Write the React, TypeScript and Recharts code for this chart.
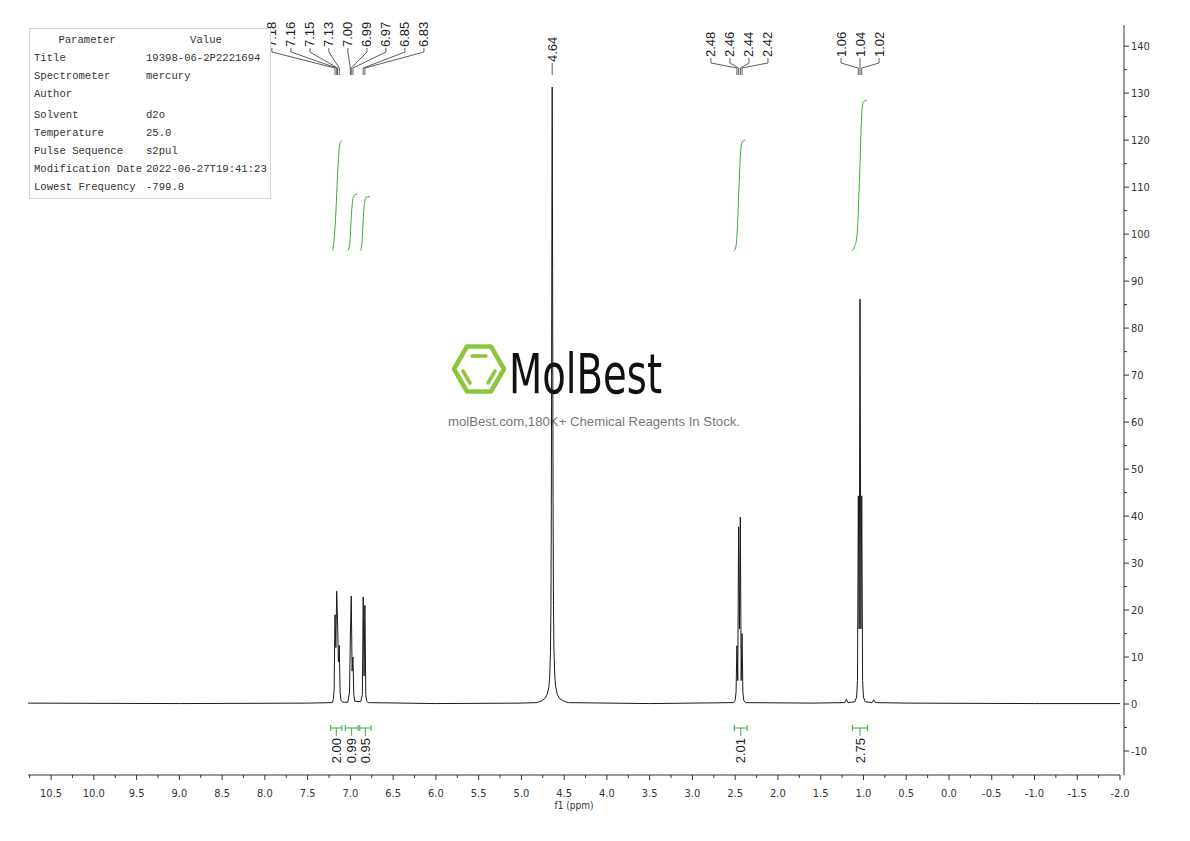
import React from 'react';
import { ComposedChart, Line, XAxis, YAxis, ReferenceLine, ReferenceDot } from 'recharts';

// axis ranges (ppm runs right to left)
const X_MIN = -2.0;
const X_MAX = 10.77;
const Y_MIN = -15.1;
const Y_MAX = 144.5;

const xMajorTicks = [10.5, 10.0, 9.5, 9.0, 8.5, 8.0, 7.5, 7.0, 6.5, 6.0, 5.5, 5.0, 4.5, 4.0, 3.5, 3.0, 2.5, 2.0, 1.5, 1.0, 0.5, 0.0, -0.5, -1.0, -1.5, -2.0];
const xMinorTicks = [10.75, 10.25, 9.75, 9.25, 8.75, 8.25, 7.75, 7.25, 6.75, 6.25, 5.75, 5.25, 4.75, 4.25, 3.75, 3.25, 2.75, 2.25, 1.75, 1.25, 0.75, 0.25, -0.25, -0.75, -1.25, -1.75];
const yMajorTicks = [-10, 0, 10, 20, 30, 40, 50, 60, 70, 80, 90, 100, 110, 120, 130, 140];
const yMinorTicks = [-5, 5, 15, 25, 35, 45, 55, 65, 75, 85, 95, 105, 115, 125, 135];

// spectrum trace [ppm, intensity]
const baselineTrace = [[10.77, 0.2], [9.0, 0.1], [7.5, 0.2], [6.0, 0.1], [5.0, 0.2], [3.5, 0.1], [1.6, 0.2], [0.5, 0.2], [-1.0, 0.1], [-2.0, 0.1]];
const aromaticTrace = [
  [7.21, 0.3], [7.2, 1], [7.19, 3], [7.18, 19], [7.17, 12], [7.16, 24], [7.15, 18], [7.14, 9], [7.13, 12.5], [7.12, 2.5], [7.11, 0.8], [7.09, 0.4],
  [7.03, 0.4], [7.01, 2.5], [7.0, 14.7], [6.99, 23], [6.98, 7], [6.97, 10], [6.96, 2], [6.95, 0.6],
  [6.88, 0.5], [6.86, 2], [6.85, 22.8], [6.84, 6], [6.83, 21], [6.82, 2], [6.81, 0.6], [6.79, 0.3],
];
const waterTrace = [
  [4.82, 0.3], [4.76, 0.7], [4.72, 1.3], [4.7, 2], [4.68, 3.5], [4.67, 5.5], [4.66, 11], [4.655, 20], [4.65, 42], [4.645, 90],
  [4.64, 131.3], [4.635, 92], [4.63, 44], [4.625, 21], [4.62, 12], [4.61, 6], [4.6, 3.8], [4.58, 2], [4.55, 1.1], [4.5, 0.6], [4.45, 0.3],
];
const quartetTrace = [
  [2.52, 0.3], [2.5, 0.8], [2.49, 2.5], [2.48, 12.4], [2.47, 5], [2.46, 37.7], [2.45, 16], [2.44, 39.8], [2.43, 5], [2.42, 15], [2.41, 2.5], [2.4, 0.8], [2.38, 0.3],
];
const tripletTrace = [
  [1.22, 0.3], [1.2, 1.0], [1.18, 0.3], [1.1, 0.5], [1.08, 1.5], [1.07, 5], [1.06, 44.3], [1.05, 16], [1.04, 86.2], [1.03, 16], [1.02, 44.3], [1.01, 5], [1.0, 1.5], [0.98, 0.5], [0.9, 0.3], [0.88, 0.9], [0.86, 0.3],
];

// integral curves [ppm, level]
const integral1 = [[7.215, 96.5], [7.2, 97.3], [7.19, 99], [7.17, 104.5], [7.15, 112.5], [7.13, 118.3], [7.12, 119.5], [7.1, 119.9]];
const integral2 = [[7.03, 96.5], [7.01, 97.5], [7.0, 100], [6.99, 103.5], [6.98, 106], [6.97, 107.6], [6.96, 108.2], [6.92, 108.5]];
const integral3 = [[6.88, 96.5], [6.87, 97.3], [6.86, 99.5], [6.85, 103], [6.84, 105.8], [6.83, 107.2], [6.82, 107.8], [6.77, 108]];
const integral4 = [[2.51, 96.5], [2.49, 97.5], [2.48, 99.5], [2.47, 103], [2.46, 108], [2.45, 112.5], [2.44, 116.5], [2.43, 118.8], [2.42, 119.6], [2.38, 120]];
const integral5 = [[1.13, 96.5], [1.1, 97.5], [1.08, 99], [1.07, 101], [1.06, 105], [1.05, 110], [1.04, 115], [1.03, 121], [1.02, 125.5], [1.01, 127.5], [1.0, 128.2], [0.96, 128.5]];

// integration ranges and values
const integralRanges = [[7.23, 7.1], [7.06, 6.91], [6.89, 6.76], [2.51, 2.36], [1.13, 0.95]];
const integralValues = [2.0, 0.99, 0.95, 2.01, 2.75];

// peak picking
const aromaticShifts = [7.18, 7.16, 7.15, 7.13, 7.0, 6.99, 6.97, 6.85, 6.83];
const waterShifts = [4.64];
const quartetShifts = [2.48, 2.46, 2.44, 2.42];
const tripletShifts = [1.06, 1.04, 1.02];

const paramNames = ['Title', 'Spectrometer', 'Author', 'Solvent', 'Temperature', 'Pulse Sequence', 'Modification Date', 'Lowest Frequency'];
const paramValues = ['19398-06-2P2221694', 'mercury', '', 'd2o', '25.0', 's2pul', '2022-06-27T19:41:23', '-799.8'];

const W = 1190;
const H = 841;
const MARGIN = { top: 25, right: 26, bottom: 31, left: 28 };
const PLOT_W = 1092;
const PX_PER_PPM = PLOT_W / (X_MAX - X_MIN);
const LABEL_GAP = 19;
const BAR_Y = -5.1;
const GREEN = '#3aa83a';
const AXIS_FONT = '"Liberation Sans Narrow", "DejaVu Sans Condensed", sans-serif';
const LABEL_FONT = '"Liberation Sans", Arial, sans-serif';

// label layout per peak group: text bottom and where the connector turns (offsets from plot top)
const groupLabelBottom = [22, 37, 32, 32];
const groupBend = [24, 38, 35, 35];

const pts = (arr: number[][]) => arr.map(([x, y]) => ({ x, y }));
const spectrum = pts(
  [...baselineTrace, ...aromaticTrace, ...waterTrace, ...quartetTrace, ...tripletTrace].sort((a, b) => b[0] - a[0])
);
const integrals = [integral1, integral2, integral3, integral4, integral5];
const peakGroups = [aromaticShifts, waterShifts, quartetShifts, tripletShifts];

const XTick = ({ x, y, payload }: any) => {
  const major = xMajorTicks.includes(payload.value);
  return (
    <g>
      <line x1={x} x2={x} y1={y} y2={y + (major ? 5 : 3)} stroke="#333" strokeWidth={1} />
      {major && (
        <text x={x} y={y + 18} textAnchor="middle" dominantBaseline="central" fontSize={11} fill="#333" fontFamily={AXIS_FONT}>
          {payload.value.toFixed(1)}
        </text>
      )}
    </g>
  );
};

const YTick = ({ x, y, payload }: any) => {
  const major = yMajorTicks.includes(payload.value);
  return (
    <g>
      <line x1={x} x2={x + (major ? 5 : 3)} y1={y} y2={y} stroke="#333" strokeWidth={1} />
      {major && (
        <text x={x + 7} y={y} textAnchor="start" dominantBaseline="central" fontSize={11} fill="#333" fontFamily={AXIS_FONT}>
          {payload.value}
        </text>
      )}
    </g>
  );
};

const PeakLabel = ({ cx, cy, dx, text, bottom, bend }: any) => {
  const lx = cx + dx;
  return (
    <g>
      <polyline
        points={`${cx},${cy + 50} ${cx},${cy + 43} ${lx},${cy + bend + 3} ${lx},${cy + bottom + 1}`}
        fill="none"
        stroke="#333"
        strokeWidth={0.8}
      />
      <text
        x={lx}
        y={cy + bottom}
        transform={`rotate(-90, ${lx}, ${cy + bottom})`}
        textAnchor="start"
        dominantBaseline="central"
        fontSize={13}
        fill="#222"
        fontFamily={LABEL_FONT}
      >
        {text}
      </text>
    </g>
  );
};

const BarEnd = ({ cx, cy }: any) => <line x1={cx} x2={cx} y1={cy - 3} y2={cy + 3} stroke={GREEN} strokeWidth={1} />;

const IntegralLabel = ({ cx, cy, text }: any) => (
  <g>
    <line x1={cx} x2={cx} y1={cy} y2={cy + 8} stroke={GREEN} strokeWidth={1} />
    <text
      x={cx}
      y={cy + 10}
      transform={`rotate(-90, ${cx}, ${cy + 10})`}
      textAnchor="end"
      dominantBaseline="central"
      fontSize={13}
      fill="#222"
      fontFamily={LABEL_FONT}
    >
      {text}
    </text>
  </g>
);

const Watermark = () => (
  <svg width={W} height={H} style={{ position: 'absolute', left: 0, top: 0 }}>
    <g fill="none" stroke="#8cc63f" strokeLinecap="round" strokeLinejoin="round">
      <polygon points="504,369 491,346.5 467,346.5 454,369 467,391.5 491,391.5" strokeWidth={4.5} />
      <line x1={472} y1={356} x2={486} y2={356} strokeWidth={3.5} />
      <line x1={463} y1={371} x2={470} y2={383} strokeWidth={3.5} />
      <line x1={495} y1={371} x2={488} y2={383} strokeWidth={3.5} />
    </g>
    <text x={509} y={393} fontSize={56} fontFamily={AXIS_FONT} fill="#111" textLength={153} lengthAdjust="spacingAndGlyphs">
      MolBest
    </text>
    <text x={448} y={426} fontSize={13} fontFamily={LABEL_FONT} fill="#777" textLength={292} lengthAdjust="spacingAndGlyphs">
      molBest.com,180K+ Chemical Reagents In Stock.
    </text>
  </svg>
);

const ParamTable = () => {
  const rowY = [57.5, 75.5, 93.5, 115, 133, 151, 169, 187];
  const font = '"Liberation Mono", "DejaVu Sans Mono", monospace';
  return (
    <svg width={300} height={210} style={{ position: 'absolute', left: 0, top: 0 }}>
      <rect x={29.5} y={28.5} width={241} height={170} fill="#fff" stroke="#d5d5d5" strokeWidth={1} />
      <g fontFamily={font} fontSize={10.6} fill="#333" dominantBaseline="central">
        <text x={87} y={40} textAnchor="middle">Parameter</text>
        <text x={206} y={40} textAnchor="middle">Value</text>
        {paramNames.map((n, i) => (
          <text key={n} x={34} y={rowY[i]}>{n}</text>
        ))}
        {paramValues.map((v, i) => (
          <text key={i} x={146} y={rowY[i]}>{v}</text>
        ))}
      </g>
    </svg>
  );
};

export default function App() {
  return (
    <div style={{ position: 'absolute', left: 0, top: 0, width: W, height: H, background: '#fff', overflow: 'hidden' }}>
      <Watermark />
      <div style={{ position: 'absolute', left: 0, top: 0 }}>
        <ComposedChart width={W} height={H} margin={MARGIN}>
          <XAxis
            dataKey="x"
            type="number"
            domain={[X_MIN, X_MAX]}
            reversed
            allowDataOverflow
            ticks={[...xMajorTicks, ...xMinorTicks].sort((a, b) => b - a)}
            interval={0}
            tickSize={0}
            tickMargin={0}
            tickLine={false}
            tick={<XTick />}
            height={35}
            stroke="#333"
            label={{
              content: ({ viewBox }: any) => (
                <text x={viewBox.x + viewBox.width / 2} y={viewBox.y + 30} textAnchor="middle" dominantBaseline="central" fontSize={10} fill="#333" fontFamily={AXIS_FONT}>
                  f1 (ppm)
                </text>
              ),
            }}
          />
          <YAxis yAxisId="gap" orientation="right" width={4} axisLine={false} tickLine={false} tick={false} />
          <YAxis
            yAxisId="main"
            orientation="right"
            type="number"
            domain={[Y_MIN, Y_MAX]}
            allowDataOverflow
            ticks={[...yMajorTicks, ...yMinorTicks].sort((a, b) => a - b)}
            interval={0}
            tickSize={0}
            tickMargin={0}
            tickLine={false}
            tick={<YTick />}
            width={40}
            stroke="#333"
          />
          {integrals.map((arr, i) => (
            <Line
              key={`int${i}`}
              yAxisId="main"
              data={pts(arr)}
              dataKey="y"
              type="monotone"
              stroke={GREEN}
              strokeWidth={1}
              dot={false}
              activeDot={false}
              isAnimationActive={false}
            />
          ))}
          <Line
            yAxisId="main"
            data={spectrum}
            dataKey="y"
            type="linear"
            stroke="#1a1a1a"
            strokeWidth={1}
            dot={false}
            activeDot={false}
            isAnimationActive={false}
          />
          {integralRanges.map(([a, b], i) => (
            <ReferenceLine
              key={`bar${i}`}
              yAxisId="main"
              segment={[{ x: a, y: BAR_Y }, { x: b, y: BAR_Y }]}
              stroke={GREEN}
              strokeWidth={1}
            />
          ))}
          {integralRanges.flatMap(([a, b], i) =>
            [a, b].map((v, j) => (
              <ReferenceDot key={`end${i}-${j}`} yAxisId="main" x={v} y={BAR_Y} shape={(p: any) => <BarEnd cx={p.cx} cy={p.cy} />} />
            ))
          )}
          {integralRanges.map(([a, b], i) => (
            <ReferenceDot
              key={`il${i}`}
              yAxisId="main"
              x={(a + b) / 2}
              y={BAR_Y}
              shape={(p: any) => <IntegralLabel cx={p.cx} cy={p.cy} text={integralValues[i].toFixed(2)} />}
            />
          ))}
          {peakGroups.flatMap((group, g) => {
            const center = group.reduce((s, v) => s + v, 0) / group.length;
            return group.map((shift, i) => {
              const dx = (shift - center) * PX_PER_PPM + (i - (group.length - 1) / 2) * LABEL_GAP;
              return (
                <ReferenceDot
                  key={`pk${g}-${i}`}
                  yAxisId="main"
                  x={shift}
                  y={Y_MAX}
                  shape={(p: any) => (
                    <PeakLabel cx={p.cx} cy={p.cy} dx={dx} text={shift.toFixed(2)} bottom={groupLabelBottom[g]} bend={groupBend[g]} />
                  )}
                />
              );
            });
          })}
        </ComposedChart>
      </div>
      <ParamTable />
    </div>
  );
}
